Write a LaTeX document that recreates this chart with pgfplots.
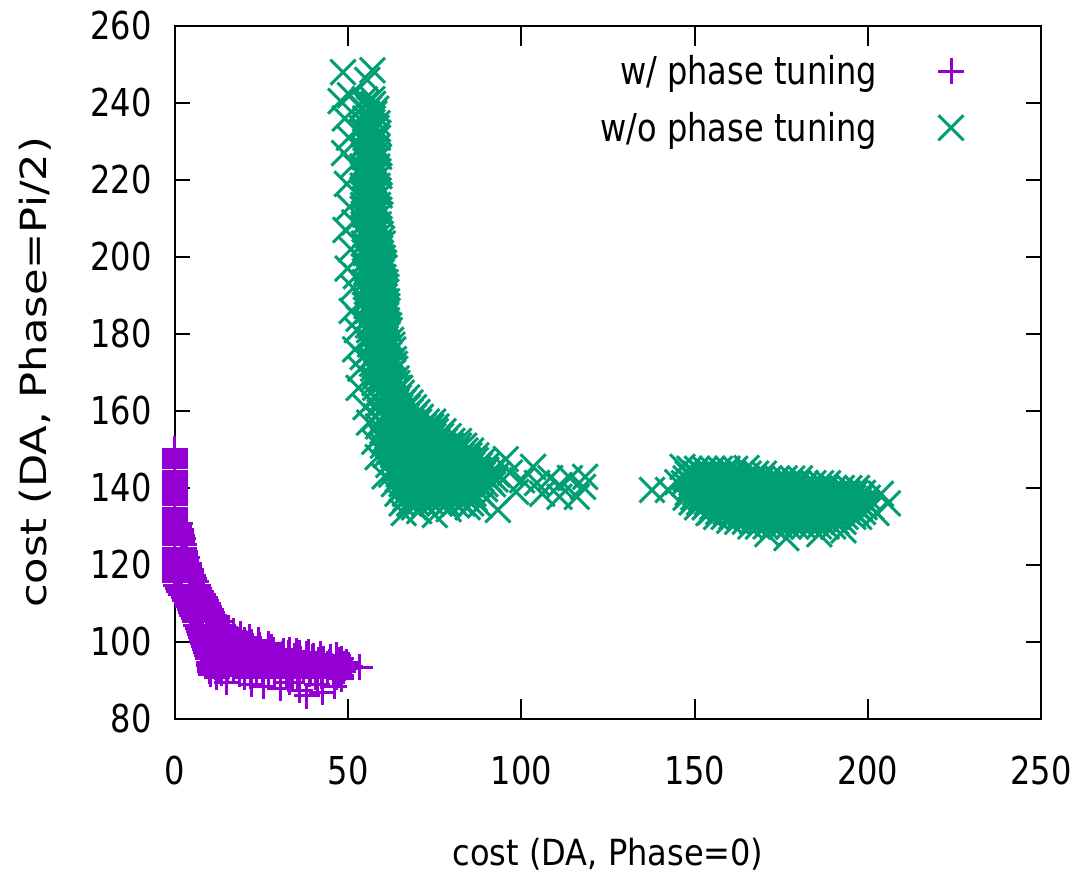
\documentclass[border=0pt]{standalone}
\usepackage{fontspec}
\setmainfont{DejaVu Sans}
\newfontfamily\labelfamily[FakeStretch=0.835]{DejaVu Sans}
\newfontfamily\xlabfamily[FakeStretch=0.89]{DejaVu Sans}
\newfontfamily\ylabfamily[FakeStretch=1.2]{DejaVu Sans}
\usepackage{pgfplots}
\pgfplotsset{compat=1.18}
\definecolor{tunedviolet}{HTML}{9400D3}
\definecolor{untunedgreen}{HTML}{009E73}
\newcommand\ticksfont{\labelfamily\fontsize{38.4}{40}\selectfont}
\newcommand\xlabfont{\xlabfamily\fontsize{36}{40}\selectfont}
\newcommand\ylabfont{\ylabfamily\fontsize{36}{40}\selectfont}

\begin{document}
\begin{tikzpicture}
\begin{axis}[
  at={(0pt,0pt)}, anchor=south west,
  scale only axis, width=866pt, height=693pt,
  xmin=0, xmax=250, ymin=80, ymax=260,
  xtick={0,50,...,250}, ytick={80,100,...,260},
  tick align=inside,
  major tick length=17pt,
  xtick style={/pgfplots/major tick length=20pt},
  ytick style={/pgfplots/major tick length=15pt},
  every tick/.style={black, line width=2pt},
  axis line style={black, line width=2pt},
  axis on top, clip=false,
  /pgf/number format/assume math mode=true,
  tick label style={font=\ticksfont},
  xticklabel style={anchor=center, inner sep=0pt, yshift=-52pt},
  yticklabel style={anchor=east, inner sep=0pt, xshift=-23pt},
  xlabel={cost (DA, Phase=0)},
  ylabel={cost (DA, Phase=Pi/2)},
  xlabel style={font=\xlabfont, at={(axis description cs:0.5,-0.1948)}, anchor=center, inner sep=0pt},
  ylabel style={font=\ylabfont, at={(axis description cs:-0.1617,0.5)}, anchor=center, inner sep=0pt},
  legend style={draw=none, fill=none, inner sep=0pt, outer sep=0pt,
    at={(0.9111,0.957)}, anchor=north east, font=\ticksfont,
    row sep=26pt, column sep=61pt, nodes={inner sep=0pt}},
  legend cell align=right,
  legend plot pos=right,
  legend image code/.code={\path[draw=none,fill=none] (-13pt,-13pt) rectangle (13pt,13pt);
    \draw[#1] plot coordinates {(0pt,0pt)};},
]

% with phase tuning
\addplot[only marks, mark=+, mark size=13pt, line width=3pt, color=tunedviolet] coordinates {
(0,150) (0,149.2) (0,148.4) (0,147.6) (0,146.8) (0,146) (0,145.2) (0,144.4)
(0,143.6) (0,142.8) (0,142) (0,141.2) (0,140.4) (0,139.6) (0,138.8) (0,138)
(0,137.2) (0,136.4) (0,135.6) (0,134.8) (0,134) (0,133.2) (0,132.4) (0,131.6)
(0,130.8) (1.3,130.8) (0,130) (1.1,130) (0,129.2) (1.7,129.2) (0,128.4) (1.6,128.4)
(0,127.6) (2,127.6) (0,126.8) (2.2,126.8) (0,126) (2.1,126) (0,125.2) (2.6,125.2)
(0,124.4) (2.5,124.4) (0,123.6) (3,123.6) (0,122.8) (2.9,122.8) (0,122) (3.4,122)
(0,121.2) (3.3,121.2) (0,120.4) (3.9,120.4) (0,119.6) (4,119.6) (0,118.8) (4.6,118.8)
(0,118) (4.5,118) (0,117.2) (5.3,117.2) (0,116.4) (5.5,116.4) (0,115.6) (6.2,115.6)
(0.4,114.8) (6.6,114.8) (0.8,114) (7,114) (1.2,113.2) (7.6,113.2) (1.8,112.4) (8.2,112.4)
(2.5,111.6) (8.6,111.6) (3,110.8) (9,110.8) (3.4,110) (9.4,110) (3.8,109.2) (9.8,109.2)
(4.2,108.4) (10.3,108.4) (4.6,107.6) (10.8,107.6) (5,106.8) (11.3,106.8) (5.4,106) (12.2,106)
(5.8,105.2) (13,105.2) (6.2,104.4) (10,104.4) (14,104.4) (6.6,103.6) (11,103.6) (15.5,103.6)
(7,102.8) (12,102.8) (17,102.8) (7.3,102) (13,102) (19,102) (7.6,101.2) (14.5,101.2) (21.5,101.2)
(7.9,100.4) (14,100.4) (20,100.4) (24,100.4) (8.2,99.6) (14.5,99.6) (21,99.6) (27,99.6)
(8.5,98.8) (15,98.8) (21.5,98.8) (28,98.8) (8.8,98) (15.5,98) (22,98) (28.5,98) (33,98)
(9,97.2) (12.4,97.2) (19.2,97.2) (26,97.2) (32.8,97.2) (36,97.2)
(9.3,96.4) (14.1,96.4) (20.9,96.4) (27.7,96.4) (34.5,96.4) (40,96.4)
(9.5,95.6) (15.8,95.6) (22.6,95.6) (29.4,95.6) (36.2,95.6) (43,95.6) (48,95.6)
(9.7,94.8) (17.5,94.8) (24.3,94.8) (31.1,94.8) (37.9,94.8) (44.7,94.8) (49.5,94.8)
(9.9,94) (13.4,94) (20.2,94) (27,94) (33.8,94) (40.6,94) (47.4,94) (50,94)
(10,93.2) (15.1,93.2) (21.9,93.2) (28.7,93.2) (35.5,93.2) (42.3,93.2) (49,93.2)
(10.1,92.4) (16.8,92.4) (23.6,92.4) (30.4,92.4) (37.2,92.4) (44,92.4) (48.5,92.4)
(10.3,91.6) (18.5,91.6) (25.3,91.6) (32.1,91.6) (38.9,91.6) (45.7,91.6)
(12,90.8) (20.2,90.8) (27,90.8) (33.8,90.8) (40.6,90.8) (46.5,90.8)
(10.8,97.6) (17.6,97.6) (24.4,97.6) (31.2,97.6) (35,97.6)
(11.2,96.8) (17.5,96.8) (24.3,96.8) (31.1,96.8) (37.9,96.8)
(12.6,96) (19.4,96) (26.2,96) (33,96) (39.8,96) (45,96)
(10.9,95.2) (14.3,95.2) (21.1,95.2) (27.9,95.2) (34.7,95.2) (41.5,95.2) (47.5,95.2)
(11.6,94.4) (16.8,94.4) (23.6,94.4) (30.4,94.4) (37.2,94.4) (44,94.4) (48.8,94.4)
(11.8,93.6) (18.5,93.6) (25.3,93.6) (32.1,93.6) (38.9,93.6) (45.7,93.6) (50.5,93.6)
(12.5,92.8) (18.6,92.8) (25.4,92.8) (32.2,92.8) (39,92.8) (45.8,92.8)
(13.5,92) (20.2,92) (27,92) (33.8,92) (40.6,92) (47.4,92)
(15,91.2) (21.9,91.2) (28.7,91.2) (35.5,91.2) (42.3,91.2) (48,91.2)
(11.5,99.2) (17.8,99.2) (24.5,99.2) (11,100) (17.2,100) (22,100)
(10.6,100.8) (17.8,100.8) (10.2,101.6) (16.8,101.6) (9.6,102.4) (14.8,102.4) (9,103.2) (13.2,103.2)
(7.2,108.8) (8,107.2) (9.2,105.6) (6.3,110.4) (5.2,112) (4.3,113.6)
(53.4,93.5) (38,86) (36,87.5) (30.5,88) (22,89) (25.5,88.5) (42.5,87) (46,88.5)
(15,89.5) (33,89.5) (41,89) (48,90.5) (38.5,97.4) (42,96.8) (46.5,96.5)
};
\addlegendentry{w/ phase tuning}

% without phase tuning
\addplot[only marks, mark=x, mark size=17.7pt, line width=3pt, color=untunedgreen] coordinates {
(48.5,248) (57,248.5) (55.5,246) (47.8,240.5) (50.5,242) (49,236) (50.2,231) (48.8,227)
(49.6,219) (50.4,213) (49.2,207) (50.8,202) (49.8,197) (51.5,192) (51,186) (52.5,181)
(52,176) (53.5,171) (53,166) (55,161) (56,157) (57.5,152) (58.5,148) (60.5,143)
(51.6,224) (51.8,209) (52.2,195) (53,184) (52.4,233) (54.2,174)
(54.8,241) (57,241)
(53.9,238.5) (56,238.5) (58.1,238.5)
(54.9,236) (57.1,236)
(54,233.5) (56.1,233.5) (58.2,233.5)
(55,231) (57.2,231) (58.6,231)
(54.1,228.5) (56.2,228.5) (58.3,228.5)
(54.6,226) (56.8,226) (58.9,226)
(54.1,223.5) (56.3,223.5) (58.4,223.5)
(54.7,221) (56.9,221) (59,221)
(54.2,218.5) (56.4,218.5) (58.5,218.5)
(54.8,216) (57,216) (59.1,216)
(54.3,213.5) (56.5,213.5) (58.6,213.5)
(54.9,211) (57.1,211) (59.3,211)
(54.4,208.5) (56.6,208.5) (58.8,208.5)
(55,206) (57.2,206) (59.4,206)
(54.5,203.5) (56.7,203.5) (58.9,203.5) (60,203.5)
(55.1,201) (57.3,201) (59.5,201)
(54.6,198.5) (56.8,198.5) (59,198.5) (60.4,198.5)
(55.2,196) (57.4,196) (59.6,196)
(54.8,193.5) (57,193.5) (59.2,193.5) (60.8,193.5)
(55.4,191) (57.6,191) (59.8,191) (61,191)
(55,188.5) (57.2,188.5) (59.4,188.5) (61.2,188.5)
(55.6,186) (57.8,186) (60,186) (61.4,186)
(55.4,183.5) (57.6,183.5) (59.8,183.5) (61.2,183.5)
(56,181) (58.2,181) (60.4,181) (62,181)
(55.9,178.5) (58.1,178.5) (60.3,178.5) (62.4,178.5)
(56.6,176) (58.8,176) (61,176) (63,176)
(56.6,173.5) (58.8,173.5) (61,173.5) (63.2,173.5)
(57.2,171) (59.4,171) (61.6,171) (63.6,171)
(57.3,168.5) (59.5,168.5) (61.7,168.5) (64,168.5)
(57.8,166) (60,166) (62.2,166) (64.4,166) (65,166)
(58,163.5) (60.2,163.5) (62.4,163.5) (64.6,163.5) (67,163.5)
(58.4,161) (60.6,161) (62.8,161) (65,161) (67.2,161) (69,161)
(58,158.5) (60.2,158.5) (62.4,158.5) (64.6,158.5) (66.8,158.5) (69,158.5) (71,158.5)
(58.6,156) (60.8,156) (63,156) (65.2,156) (67.4,156) (69.6,156) (71.8,156) (74,156) (75.5,156)
(59.2,153.5) (61.4,153.5) (63.6,153.5) (65.8,153.5) (68,153.5) (70.2,153.5) (72.4,153.5) (74.6,153.5) (76.8,153.5) (79,153.5)
(60,151) (62.2,151) (64.4,151) (66.6,151) (68.8,151) (71,151) (73.2,151) (75.4,151) (77.6,151) (79.8,151) (82,151) (83.5,151)
(60.8,148.5) (63,148.5) (65.2,148.5) (67.4,148.5) (69.6,148.5) (71.8,148.5) (74,148.5) (76.2,148.5) (78.4,148.5) (80.6,148.5) (82.8,148.5) (85,148.5) (87,148.5)
(61.6,146) (63.8,146) (66,146) (68.2,146) (70.4,146) (72.6,146) (74.8,146) (77,146) (79.2,146) (81.4,146) (83.6,146) (85.8,146) (88,146) (90.2,146)
(62.4,143.5) (64.6,143.5) (66.8,143.5) (69,143.5) (71.2,143.5) (73.4,143.5) (75.6,143.5) (77.8,143.5) (80,143.5) (82.2,143.5) (84.4,143.5) (86.6,143.5) (88.8,143.5) (91,143.5) (93,143.5)
(63.2,141) (65.4,141) (67.6,141) (69.8,141) (72,141) (74.2,141) (76.4,141) (78.6,141) (80.8,141) (83,141) (85.2,141) (87.4,141) (89.6,141) (91.8,141)
(64.2,138.5) (66.4,138.5) (68.6,138.5) (70.8,138.5) (73,138.5) (75.2,138.5) (77.4,138.5) (79.6,138.5) (81.8,138.5) (84,138.5) (86.2,138.5) (88.4,138.5)
(65.4,136) (67.6,136) (69.8,136) (72,136) (74.2,136) (76.4,136) (78.6,136) (80.8,136) (83,136) (85.5,136)
(55,239.75) (57.2,239.75) (55.5,237.25) (57.6,237.25)
(54.5,234.75) (56.7,234.75) (58.5,234.75) (54.5,232.25) (56.6,232.25) (58.7,232.25)
(55.1,229.75) (57.3,229.75) (54.3,227.25) (56.5,227.25) (58.6,227.25)
(55.3,224.75) (57.5,224.75) (54.4,222.25) (56.6,222.25) (58.7,222.25)
(55.3,219.75) (57.5,219.75) (54.5,217.25) (56.7,217.25) (58.8,217.25)
(55.4,214.75) (57.6,214.75) (54.6,212.25) (56.8,212.25) (59,212.25)
(55.5,209.75) (57.7,209.75) (54.7,207.25) (56.9,207.25) (59.1,207.25)
(55.6,204.75) (57.8,204.75) (59.8,204.75) (54.8,202.25) (57,202.25) (59.2,202.25)
(55.7,199.75) (57.9,199.75) (60,199.75) (54.9,197.25) (57.1,197.25) (59.3,197.25) (60.5,197.25)
(56,194.75) (58.2,194.75) (60.2,194.75) (55.1,192.25) (57.3,192.25) (59.5,192.25) (61,192.25)
(56.2,189.75) (58.4,189.75) (60.6,189.75) (55.3,187.25) (57.5,187.25) (59.7,187.25) (61.3,187.25)
(56.4,184.75) (58.6,184.75) (60.8,184.75) (55.7,182.25) (57.9,182.25) (60.1,182.25) (61.8,182.25)
(56.8,179.75) (59,179.75) (61.2,179.75) (56.3,177.25) (58.5,177.25) (60.7,177.25) (62.8,177.25)
(57.5,174.75) (59.7,174.75) (61.9,174.75) (56.9,172.25) (59.1,172.25) (61.3,172.25) (63.5,172.25)
(58.1,169.75) (60.3,169.75) (62.5,169.75) (57.6,167.25) (59.8,167.25) (62,167.25) (64.2,167.25)
(58.9,164.75) (61.1,164.75) (63.3,164.75) (65.5,164.75)
(59.3,162.25) (61.5,162.25) (63.7,162.25) (65.9,162.25) (68,162.25)
(59.1,159.75) (61.3,159.75) (63.5,159.75) (65.7,159.75) (67.9,159.75) (70,159.75)
(59.5,157.25) (61.7,157.25) (63.9,157.25) (66.1,157.25) (68.3,157.25) (70.5,157.25) (72.7,157.25) (74.5,157.25)
(59.9,154.75) (62.1,154.75) (64.3,154.75) (66.5,154.75) (68.7,154.75) (70.9,154.75) (73.1,154.75) (75.3,154.75) (77.5,154.75)
(60.3,152.25) (62.5,152.25) (64.7,152.25) (66.9,152.25) (69.1,152.25) (71.3,152.25) (73.5,152.25) (75.7,152.25) (77.9,152.25) (80.1,152.25) (82,152.25)
(61.9,149.75) (64.1,149.75) (66.3,149.75) (68.5,149.75) (70.7,149.75) (72.9,149.75) (75.1,149.75) (77.3,149.75) (79.5,149.75) (81.7,149.75) (83.9,149.75) (85.5,149.75)
(62.7,147.25) (64.9,147.25) (67.1,147.25) (69.3,147.25) (71.5,147.25) (73.7,147.25) (75.9,147.25) (78.1,147.25) (80.3,147.25) (82.5,147.25) (84.7,147.25) (86.9,147.25) (89,147.25)
(63.5,144.75) (65.7,144.75) (67.9,144.75) (70.1,144.75) (72.3,144.75) (74.5,144.75) (76.7,144.75) (78.9,144.75) (81.1,144.75) (83.3,144.75) (85.5,144.75) (87.7,144.75) (89.9,144.75) (92,144.75)
(64.3,142.25) (66.5,142.25) (68.7,142.25) (70.9,142.25) (73.1,142.25) (75.3,142.25) (77.5,142.25) (79.7,142.25) (81.9,142.25) (84.1,142.25) (86.3,142.25) (88.5,142.25) (90.7,142.25) (92.5,142.25)
(65.3,139.75) (67.5,139.75) (69.7,139.75) (71.9,139.75) (74.1,139.75) (76.3,139.75) (78.5,139.75) (80.7,139.75) (82.9,139.75) (85.1,139.75) (87.3,139.75) (89.5,139.75)
(66.5,137.25) (68.7,137.25) (70.9,137.25) (73.1,137.25) (75.3,137.25) (77.5,137.25) (79.7,137.25) (81.9,137.25) (84.1,137.25) (86.5,137.25)
(66,133.5) (70.5,134) (75,133) (79,134.5) (84.5,135) (88,135.5) (69,135)
(93.2,134.3) (96.7,144) (100.2,142) (103.4,145.5) (104.5,141.3) (108.3,142.6) (111,140.8)
(114,142.6) (117.8,140.3) (118.4,142.9) (111,137.7) (116,137.7) (98.5,139) (106,138.5) (95.5,147.5)
(148.5,145) (150.7,145) (152.9,145) (155.1,145) (157.3,145) (159.5,145) (161.7,145)
(147.4,142.5) (149.6,142.5) (151.8,142.5) (154,142.5) (156.2,142.5) (158.4,142.5) (160.6,142.5) (162.8,142.5)
(165,142.5) (167.2,142.5) (169.4,142.5) (171.6,142.5) (173.8,142.5) (176,142.5) (178.2,142.5) (180.4,142.5)
(148.5,140) (150.7,140) (152.9,140) (155.1,140) (157.3,140) (159.5,140) (161.7,140) (163.9,140)
(166.1,140) (168.3,140) (170.5,140) (172.7,140) (174.9,140) (177.1,140) (179.3,140) (181.5,140)
(183.7,140) (185.9,140) (188.1,140) (190.3,140) (192.5,140) (194.7,140) (196.9,140)
(147.4,137.5) (149.6,137.5) (151.8,137.5) (154,137.5) (156.2,137.5) (158.4,137.5) (160.6,137.5) (162.8,137.5)
(165,137.5) (167.2,137.5) (169.4,137.5) (171.6,137.5) (173.8,137.5) (176,137.5) (178.2,137.5) (180.4,137.5)
(182.6,137.5) (184.8,137.5) (187,137.5) (189.2,137.5) (191.4,137.5) (193.6,137.5) (195.8,137.5) (198,137.5) (200,137.5)
(150.7,135) (152.9,135) (155.1,135) (157.3,135) (159.5,135) (161.7,135) (163.9,135) (166.1,135)
(168.3,135) (170.5,135) (172.7,135) (174.9,135) (177.1,135) (179.3,135) (181.5,135) (183.7,135)
(185.9,135) (188.1,135) (190.3,135) (192.5,135) (194.7,135) (196.9,135) (199.1,135) (201,135)
(156.2,132.5) (158.4,132.5) (160.6,132.5) (162.8,132.5) (165,132.5) (167.2,132.5) (169.4,132.5) (171.6,132.5)
(173.8,132.5) (176,132.5) (178.2,132.5) (180.4,132.5) (182.6,132.5) (184.8,132.5) (187,132.5) (189.2,132.5)
(191.4,132.5) (193.6,132.5) (195.8,132.5) (197.5,132.5)
(166.1,130) (168.3,130) (170.5,130) (172.7,130) (174.9,130) (177.1,130) (179.3,130) (181.5,130)
(183.7,130) (185.9,130) (188.1,130) (190,130)
(148,143.75) (150.2,143.75) (152.4,143.75) (154.6,143.75) (156.8,143.75) (159,143.75) (161.2,143.75) (163.4,143.75)
(165.6,143.75) (167.8,143.75) (170,143.75)
(146.9,141.25) (149.1,141.25) (151.3,141.25) (153.5,141.25) (155.7,141.25) (157.9,141.25) (160.1,141.25) (162.3,141.25)
(164.5,141.25) (166.7,141.25) (168.9,141.25) (171.1,141.25) (173.3,141.25) (175.5,141.25) (177.7,141.25) (179.9,141.25)
(182.1,141.25) (184.3,141.25) (186.5,141.25) (188.5,141.25)
(148,138.75) (150.2,138.75) (152.4,138.75) (154.6,138.75) (156.8,138.75) (159,138.75) (161.2,138.75) (163.4,138.75)
(165.6,138.75) (167.8,138.75) (170,138.75) (172.2,138.75) (174.4,138.75) (176.6,138.75) (178.8,138.75) (181,138.75)
(183.2,138.75) (185.4,138.75) (187.6,138.75) (189.8,138.75) (192,138.75) (194.2,138.75) (196.4,138.75) (198.6,138.75)
(149.1,136.25) (151.3,136.25) (153.5,136.25) (155.7,136.25) (157.9,136.25) (160.1,136.25) (162.3,136.25) (164.5,136.25)
(166.7,136.25) (168.9,136.25) (171.1,136.25) (173.3,136.25) (175.5,136.25) (177.7,136.25) (179.9,136.25) (182.1,136.25)
(184.3,136.25) (186.5,136.25) (188.7,136.25) (190.9,136.25) (193.1,136.25) (195.3,136.25) (197.5,136.25) (199.7,136.25)
(154.6,133.75) (156.8,133.75) (159,133.75) (161.2,133.75) (163.4,133.75) (165.6,133.75) (167.8,133.75) (170,133.75)
(172.2,133.75) (174.4,133.75) (176.6,133.75) (178.8,133.75) (181,133.75) (183.2,133.75) (185.4,133.75) (187.6,133.75)
(189.8,133.75) (192,133.75) (194.2,133.75) (196.4,133.75) (198.6,133.75)
(162.3,131.25) (164.5,131.25) (166.7,131.25) (168.9,131.25) (171.1,131.25) (173.3,131.25) (175.5,131.25) (177.7,131.25)
(179.9,131.25) (182.1,131.25) (184.3,131.25) (186.5,131.25) (188.7,131.25) (190.9,131.25) (193,131.25)
(137.7,139.5) (142.3,139.5) (145,141.5) (205.8,136) (203.8,138.5) (202.5,133.5) (176.5,127) (171,128)
(186,128) (193,129) (160,131.5) (154,133.5) (146.5,145.5) (165,145.2)
};
\addlegendentry{w/o phase tuning}
\end{axis}
\pgfresetboundingbox
\useasboundingbox (-175pt,-159pt) rectangle (909pt,719pt);
\end{tikzpicture}
\end{document}
